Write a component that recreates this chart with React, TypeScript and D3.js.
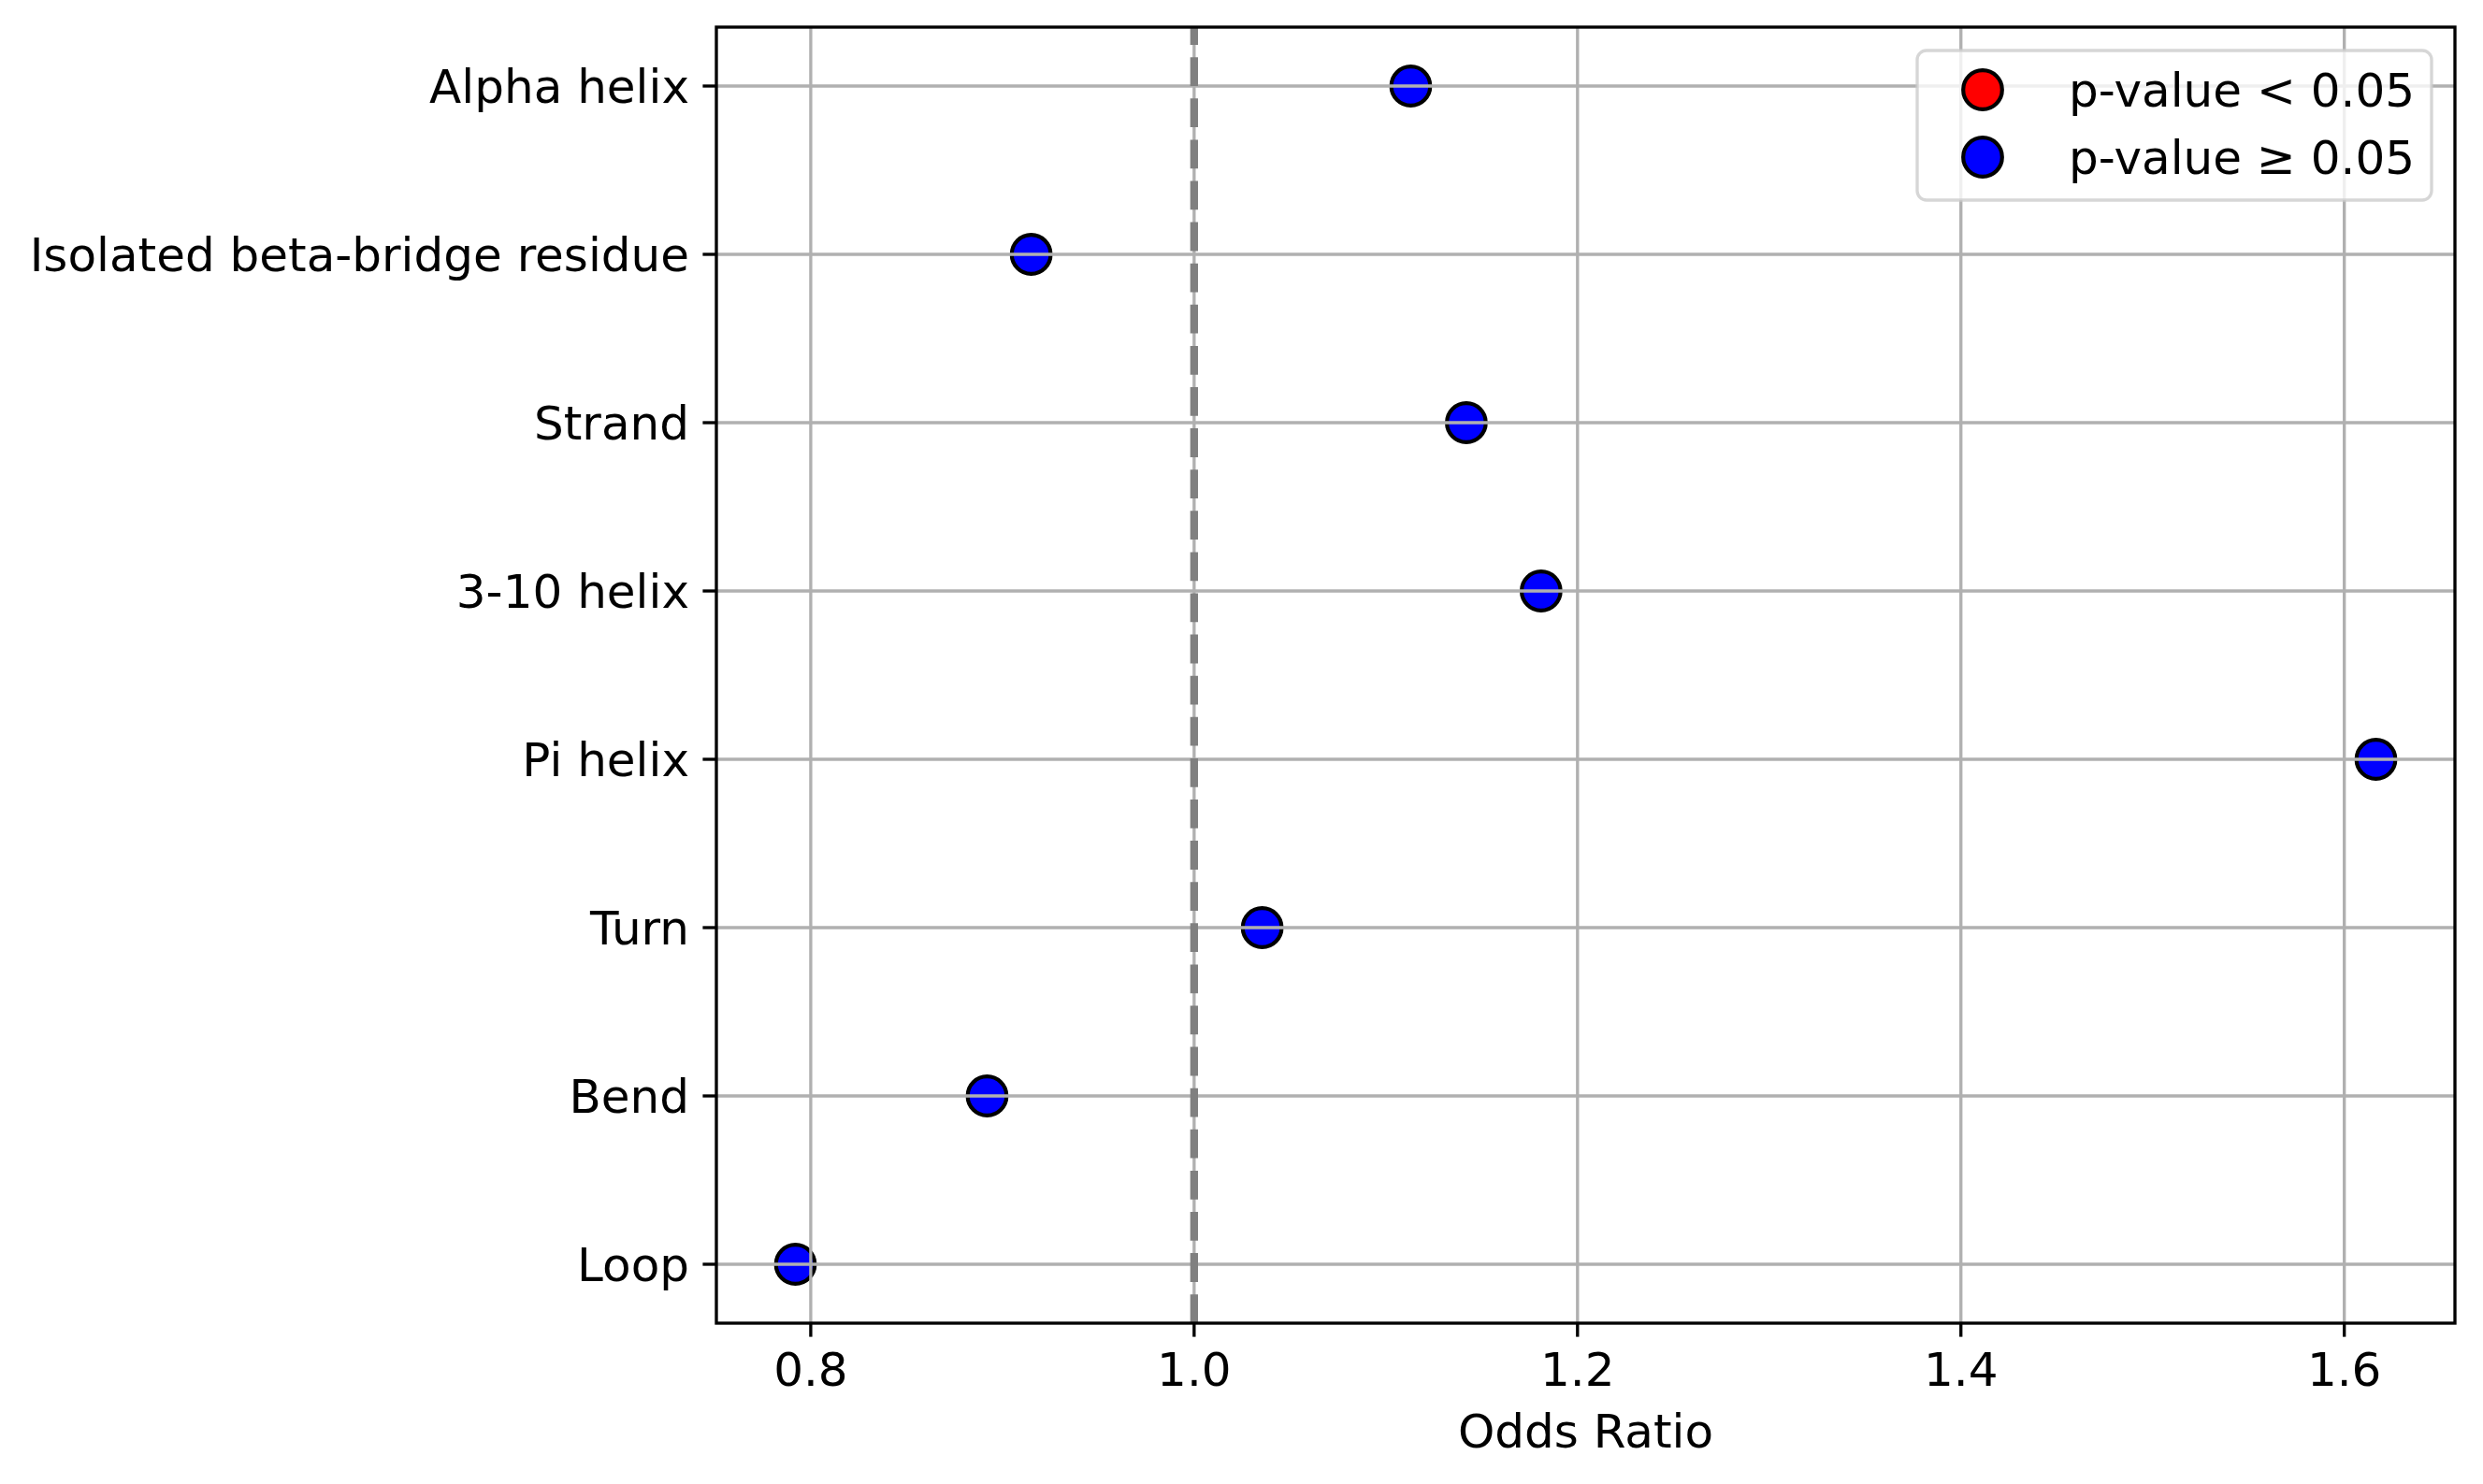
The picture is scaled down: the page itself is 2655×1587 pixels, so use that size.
import React from 'react';
import { scaleLinear, extent, format } from 'd3';

// categories bottom -> top, as plotted (index 0 sits on the x axis side)
const categories = ['Loop', 'Bend', 'Turn', 'Pi helix', '3-10 helix', 'Strand', 'Isolated beta-bridge residue', 'Alpha helix'];
const oddsRatios = [0.792, 0.892, 1.0355, 1.6165, 1.181, 1.142, 0.915, 1.113];
const significant = [false, false, false, false, false, false, false, false];
const xTicks = [0.8, 1.0, 1.2, 1.4, 1.6];
const legendLabels = ['p-value < 0.05', 'p-value \u2265 0.05'];
const legendColors = ['#ff0000', '#0000ff'];

const W = 2655;
const H = 1587;
const plot = { left: 766, right: 2625, top: 29, bottom: 1415 };
const FONT = 'DejaVu Sans, sans-serif';
const FS = 50;
const LW = 3.33;
const R = 20.8;

export default function App() {
    const [lo, hi] = extent(oddsRatios) as [number, number];
    const pad = (hi - lo) * 0.05;
    const xScale = scaleLinear().domain([lo - pad, hi + pad]).range([plot.left, plot.right]);
    const n = categories.length;
    const yPad = (n - 1) * 0.05;
    const yScale = scaleLinear().domain([-yPad, n - 1 + yPad]).range([plot.bottom, plot.top]);
    const fmt = format('.1f');

    const legend = { x: 2050, y: 54, w: 550, h: 160 };
    const rowY = [96, 168];

    return (
        <svg width={W} height={H} style={{ position: 'absolute', left: 0, top: 0, display: 'block' }} fontFamily={FONT}>
            <rect x={0} y={0} width={W} height={H} fill="#fff" />
            {/* points (under the grid, like matplotlib's default zorder) */}
            <g>
                {oddsRatios.map((v, i) => (
                    <circle
                        key={categories[i]}
                        cx={xScale(v)}
                        cy={yScale(i)}
                        r={R}
                        fill={significant[i] ? legendColors[0] : legendColors[1]}
                        stroke="#000"
                        strokeWidth={4.2}
                    />
                ))}
            </g>
            {/* grid */}
            <g stroke="#b0b0b0" strokeWidth={LW}>
                {xTicks.map((t) => (
                    <line key={t} x1={xScale(t)} x2={xScale(t)} y1={plot.top} y2={plot.bottom} />
                ))}
                {categories.map((c, i) => (
                    <line key={c} x1={plot.left} x2={plot.right} y1={yScale(i)} y2={yScale(i)} />
                ))}
            </g>
            {/* reference line at OR = 1 */}
            <line
                x1={xScale(1)}
                x2={xScale(1)}
                y1={plot.bottom}
                y2={plot.top}
                stroke="#808080"
                strokeWidth={8.33}
                strokeDasharray="30.8 13.3"
            />
            {/* spines */}
            <rect
                x={plot.left}
                y={plot.top}
                width={plot.right - plot.left}
                height={plot.bottom - plot.top}
                fill="none"
                stroke="#000"
                strokeWidth={LW}
            />
            {/* x ticks */}
            <g>
                {xTicks.map((t) => (
                    <g key={t} transform={`translate(${xScale(t)},${plot.bottom})`}>
                        <line y1={0} y2={14.6} stroke="#000" strokeWidth={LW} />
                        <text y={67} textAnchor="middle" fontSize={FS} fill="#000">
                            {fmt(t)}
                        </text>
                    </g>
                ))}
            </g>
            {/* y ticks */}
            <g>
                {categories.map((c, i) => (
                    <g key={c} transform={`translate(${plot.left},${yScale(i)})`}>
                        <line x1={0} x2={-14.6} stroke="#000" strokeWidth={LW} />
                        <text x={-29} y={18} textAnchor="end" fontSize={FS} fill="#000">
                            {c}
                        </text>
                    </g>
                ))}
            </g>
            <text x={(plot.left + plot.right) / 2} y={1548} textAnchor="middle" fontSize={FS} fill="#000">
                Odds Ratio
            </text>
            {/* legend */}
            <g>
                <rect
                    x={legend.x}
                    y={legend.y}
                    width={legend.w}
                    height={legend.h}
                    rx={10}
                    fill="#fff"
                    fillOpacity={0.8}
                    stroke="#cccccc"
                    strokeOpacity={0.8}
                    strokeWidth={LW}
                />
                {legendLabels.map((l, i) => (
                    <g key={l}>
                        <circle cx={2120} cy={rowY[i]} r={R} fill={legendColors[i]} stroke="#000" strokeWidth={4.2} />
                        <text x={2212} y={rowY[i] + 18} fontSize={FS} fill="#000">
                            {l}
                        </text>
                    </g>
                ))}
            </g>
        </svg>
    );
}
